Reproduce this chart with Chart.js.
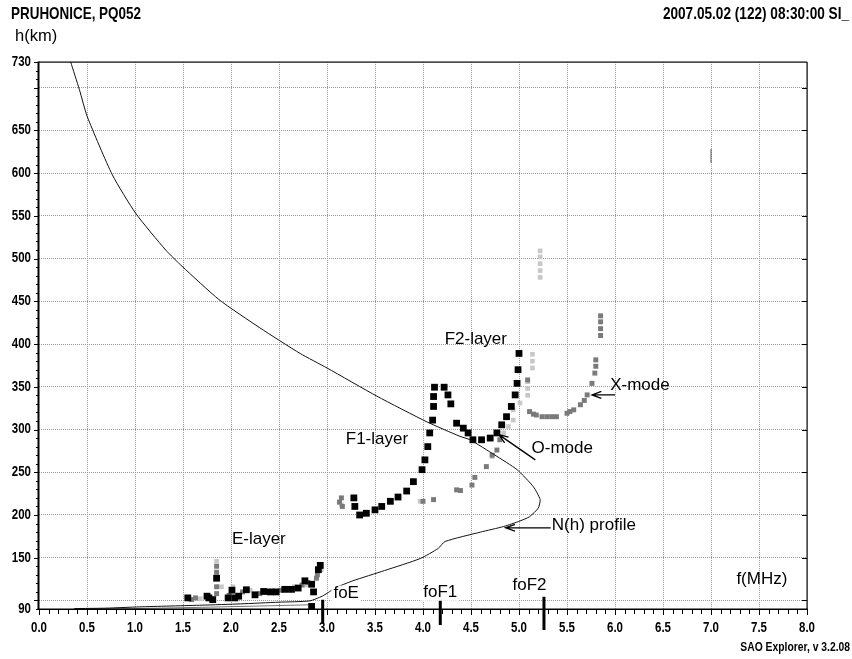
<!DOCTYPE html>
<html>
<head>
<meta charset="utf-8">
<script src="https://cdn.jsdelivr.net/npm/chart.js@4/dist/chart.umd.min.js"></script>
<style>
html,body{margin:0;padding:0;background:#fff;}
</style>
</head>
<body>
<canvas id="iono" width="852" height="659"></canvas>
<script>
// axis setup (frequency MHz / virtual height km)
const xMin = 0, xMax = 8, xStep = 0.5;
const yMin = 90, yMax = 730;
const xTickValues = [0, 0.5, 1, 1.5, 2, 2.5, 3, 3.5, 4, 4.5, 5, 5.5, 6, 6.5, 7, 7.5, 8];
const xTickLabels = ['0.0','0.5','1.0','1.5','2.0','2.5','3.0','3.5','4.0','4.5','5.0','5.5','6.0','6.5','7.0','7.5','8.0'];
const yTickValues = [90, 100, 150, 200, 250, 300, 350, 400, 450, 500, 550, 600, 650, 700, 730];
const yTickLabels = ['90', '', '150', '200', '250', '300', '350', '400', '450', '500', '550', '600', '650', '', '730'];

// N(h) profile as [f, h]
const profile = [[0.37,90.5],[0.7,91],[1.05,92.5],[1.7,94.5],[2.1,96],[2.5,98],[2.82,99.5],[2.95,105],[3.03,110.5],
  [3.07,114],[3.27,123],[3.6,135],[3.97,149],[4.16,161],[4.23,169],[4.6,180],[4.84,186.5],[5.01,193],[5.11,198],
  [5.2,208],[5.22,218],[5.15,233],[4.98,253],[4.75,270],[4.49,288],[4.385,292],[4.04,309],[3.52,339],[3.0,372],
  [2.72,389],[2.3,419],[1.875,452],[1.49,491],[1.32,510],[1.007,553],[0.764,598],[0.503,666],[0.42,698],[0.33,730]];
const profileBase = [[0.37,90],[1.0,90.5],[1.7,92],[2.3,93.5],[2.85,95]];

// O-mode trace (black)
const oTrace = [[3.28,220],[3.29,210],[3.34,200],[3.41,202],[3.5,206],[3.57,210],[3.66,216],[3.74,221],[3.83,228],
  [3.9,239],[3.99,253],[4.02,264.5],[4.05,280],[4.07,296],[4.1,311],[4.11,327],[4.11,338.6],[4.12,349.5],[4.22,349.5],
  [4.26,340.5],[4.29,330],[4.35,307.4],[4.42,301.6],[4.47,296],[4.52,288],[4.61,288],[4.7,290],[4.77,296],[4.82,305.5],
  [4.87,315],[4.92,327],[4.96,340.5],[4.98,354],[4.99,370],[5.0,389],
  [1.55,103],[1.75,105],[1.77,103],[1.81,101],[1.85,126],[1.97,103],[2.01,112],[2.04,103],[2.08,105],[2.16,112.5],
  [2.25,106.6],[2.34,110.5],[2.41,110],[2.47,110],[2.56,113],[2.63,113],[2.7,114.5],[2.77,123],[2.84,119],[2.86,110],
  [2.91,136],[2.93,141],[2.84,93]];

// dark grey echoes (X-mode and others)
const grayTrace = [[3.13,215],[3.16,210],[3.15,220],[4.0,216],[4.11,218],[4.35,229.4],[4.39,228.6],[4.51,235],[4.54,244],
  [4.66,256.6],[4.72,270],[4.77,276],[4.8,288],[5.09,358],
  [5.11,321],[5.15,318],[5.18,317],[5.24,315],[5.29,315],[5.34,315],[5.39,315],[5.5,319],[5.53,321],[5.57,323],[5.64,329],
  [5.68,334],[5.71,340.5],[5.76,354],[5.79,366],[5.8,374],[5.8,381.5],[5.85,410],[5.85,418],[5.85,426],[5.85,433],
  [1.59,101],[1.63,103],[1.85,108],[1.85,116],[1.85,133],[1.85,140],[1.98,106],[2.12,110],[2.3,108],[2.52,112],
  [2.6,114],[2.74,118],[2.8,121],[2.89,126],[2.9,130]];
const speck = [[7.0,620]];

// light grey echoes
const lightTrace = [[3.15,212],[3.97,216],[4.72,268.5],[4.84,296],[4.89,303.5],[4.94,311],[4.94,323],[5.01,331],
  [5.09,340],[5.09,348],[5.09,356],[5.14,372],[5.14,380],[5.14,388],[5.22,478],[5.22,486],[5.22,494],[5.22,502],[5.22,509],
  [1.68,102],[1.9,116],[2.02,116],[2.2,112],[2.45,111],[2.66,116],[2.78,118],[2.94,136],[1.85,146]];

// scaled critical frequencies
const critNames = ['foE', 'foF1', 'foF2'];
const critFreq = [2.955, 4.18, 5.26];
const critTop = [100.8, 100.8, 104.3];
const critLabelF = [3.2, 4.18, 5.11];
const critLabelH = [108, 109, 118];

// annotations inside the plot
const noteText = ['E-layer', 'F1-layer', 'F2-layer', 'O-mode', 'X-mode', 'N(h) profile', 'f(MHz)'];
const noteF = [2.29, 3.52, 4.55, 5.45, 6.26, 5.78, 7.53];
const noteH = [171, 289, 405, 277.5, 351.6, 188.5, 125];
const arrowFrom = [[5.17,264.5],[6.0,340.5],[5.33,185]];
const arrowTo = [[4.79,294],[5.76,340.5],[4.86,185]];

const plain = "'Liberation Sans', Arial, sans-serif";

function pts(list){
  return list.map(p => ({x: p[0], y: p[1]}));
}

// no narrow face installed, so squeeze bold text horizontally
function narrowText(ctx, txt, x, y, size, align){
  ctx.save();
  ctx.font = 'bold ' + size + 'px ' + plain;
  ctx.textAlign = align;
  ctx.textBaseline = 'middle';
  ctx.translate(x, y);
  ctx.scale(0.82, 1);
  ctx.fillText(txt, 0, 0);
  ctx.restore();
}

function arrow(ctx, x1, y1, x2, y2){
  const ang = Math.atan2(y2 - y1, x2 - x1);
  ctx.beginPath();
  ctx.moveTo(x1, y1);
  ctx.lineTo(x2, y2);
  ctx.moveTo(x2 - 10 * Math.cos(ang - 0.35), y2 - 10 * Math.sin(ang - 0.35));
  ctx.lineTo(x2, y2);
  ctx.lineTo(x2 - 10 * Math.cos(ang + 0.35), y2 - 10 * Math.sin(ang + 0.35));
  ctx.stroke();
}

const ionoDecor = {
  id: 'ionoDecor',
  afterDatasetsDraw(chart){
    const ctx = chart.ctx, a = chart.chartArea;
    const x = chart.scales.x, y = chart.scales.y;
    ctx.save();
    ctx.fillStyle = '#000';
    // frame
    ctx.fillRect(a.left - 1.5, a.top - 0.5, 2, a.height + 1.5);
    ctx.fillRect(a.left - 1.5, a.bottom - 0.5, a.width + 2, 1.5);
    ctx.fillRect(a.left, a.top - 0.5, a.width, 1.2);
    ctx.fillRect(a.right - 0.5, a.top, 1.2, a.height);
    // minor ticks
    ctx.strokeStyle = '#000';
    ctx.lineWidth = 1;
    ctx.beginPath();
    for(let i = 0; i <= 80; i++){
      const px = Math.round(x.getPixelForValue(i / 10)) + 0.5;
      ctx.moveTo(px, a.bottom);
      ctx.lineTo(px, a.bottom + (i % 5 == 0 ? 6 : 5));
    }
    for(let h = yMin; h <= yMax; h += 10){
      const py = Math.round(y.getPixelForValue(h)) + 0.5;
      ctx.moveTo(a.left - (h % 50 == 0 ? 5 : 3), py);
      ctx.lineTo(a.left, py);
    }
    ctx.moveTo(a.left - 5, a.top + 0.5);
    ctx.lineTo(a.left, a.top + 0.5);
    for(let h = 100; h <= 700; h += 50){
      const py = Math.round(y.getPixelForValue(h)) + 0.5;
      ctx.moveTo(a.right - 5, py);
      ctx.lineTo(a.right, py);
    }
    ctx.stroke();
    // tick labels
    for(let i = 0; i < xTickValues.length; i++){
      narrowText(ctx, xTickLabels[i], x.getPixelForValue(xTickValues[i]), a.bottom + 19, 14, 'center');
    }
    for(let i = 0; i < yTickValues.length; i++){
      if(yTickLabels[i]) narrowText(ctx, yTickLabels[i], a.left - 8, y.getPixelForValue(yTickValues[i]), 14, 'right');
    }
    // critical frequency markers + labels
    ctx.font = '17px ' + plain;
    ctx.textAlign = 'center';
    ctx.textBaseline = 'middle';
    const below = [14, 16, 21];
    for(let i = 0; i < critFreq.length; i++){
      const px = x.getPixelForValue(critFreq[i]);
      ctx.fillRect(px - 1.5, y.getPixelForValue(critTop[i]), 3, a.bottom + below[i] - y.getPixelForValue(critTop[i]));
      const lx = x.getPixelForValue(critLabelF[i]), ly = y.getPixelForValue(critLabelH[i]);
      const w = ctx.measureText(critNames[i]).width;
      ctx.fillStyle = '#fff';
      ctx.fillRect(lx - w / 2 - 2, ly - 8, w + 4, 16);
      ctx.fillStyle = '#000';
      ctx.fillText(critNames[i], lx, ly);
    }
    // notes and arrows
    for(let i = 0; i < noteText.length; i++){
      ctx.fillText(noteText[i], x.getPixelForValue(noteF[i]), y.getPixelForValue(noteH[i]));
    }
    ctx.lineWidth = 1.3;
    for(let i = 0; i < arrowFrom.length; i++){
      arrow(ctx, x.getPixelForValue(arrowFrom[i][0]), y.getPixelForValue(arrowFrom[i][1]),
        x.getPixelForValue(arrowTo[i][0]), y.getPixelForValue(arrowTo[i][1]));
    }
    // header / footer text
    narrowText(ctx, 'PRUHONICE, PQ052', 11, 14, 16.4, 'left');
    ctx.font = '16.5px ' + plain;
    ctx.textAlign = 'left';
    ctx.fillText('h(km)', 15, 36);
    narrowText(ctx, '2007.05.02 (122) 08:30:00 SI_', 849, 14, 16.6, 'right');
    narrowText(ctx, 'SAO Explorer, v 3.2.08', 850, 648, 12.6, 'right');
    ctx.restore();
  }
};

const gridColor = (c) => {
  const v = c.tick ? c.tick.value : null;
  if(v === xMin || v === xMax || v === yMin || v === yMax) return 'rgba(0,0,0,0)';
  return '#9a9a9a';
};

new Chart(document.getElementById('iono'), {
  type: 'scatter',
  data: {
    datasets: [
      {data: pts(profile), showLine: true, borderColor: '#111', borderWidth: 1, pointRadius: 0, tension: 0.2},
      {data: pts(oTrace), pointStyle: 'rect', pointRadius: 4.8, backgroundColor: '#000', borderWidth: 0},
      {data: pts(speck), pointStyle: 'line', rotation: 90, pointRadius: 7, borderColor: '#555', borderWidth: 1},
      {data: pts(grayTrace), pointStyle: 'rect', pointRadius: 3.5, backgroundColor: '#7a7a7a', borderWidth: 0},
      {data: pts(lightTrace), pointStyle: 'rect', pointRadius: 3.3, backgroundColor: '#c8c8c8', borderWidth: 0},
      {data: pts(profileBase), showLine: true, borderColor: '#777', borderWidth: 1, pointRadius: 0}
    ]
  },
  options: {
    responsive: false,
    animation: false,
    devicePixelRatio: 1,
    layout: {padding: {left: 0, top: 62, right: 45, bottom: 0}},
    plugins: {legend: {display: false}, tooltip: {enabled: false}},
    scales: {
      x: {
        type: 'linear', min: xMin, max: xMax,
        afterFit: (s) => { s.height = 50; },
        afterBuildTicks: (s) => { s.ticks = xTickValues.map(v => ({value: v})); },
        ticks: {display: false},
        grid: {color: gridColor, lineWidth: 1, drawTicks: false},
        border: {display: false, dash: [1, 1]}
      },
      y: {
        type: 'linear', min: yMin, max: yMax,
        afterFit: (s) => { s.width = 39; },
        afterBuildTicks: (s) => { s.ticks = yTickValues.map(v => ({value: v})); },
        ticks: {display: false},
        grid: {color: gridColor, lineWidth: 1, drawTicks: false},
        border: {display: false, dash: [1, 1]}
      }
    }
  },
  plugins: [ionoDecor]
});
</script>
</body>
</html>
